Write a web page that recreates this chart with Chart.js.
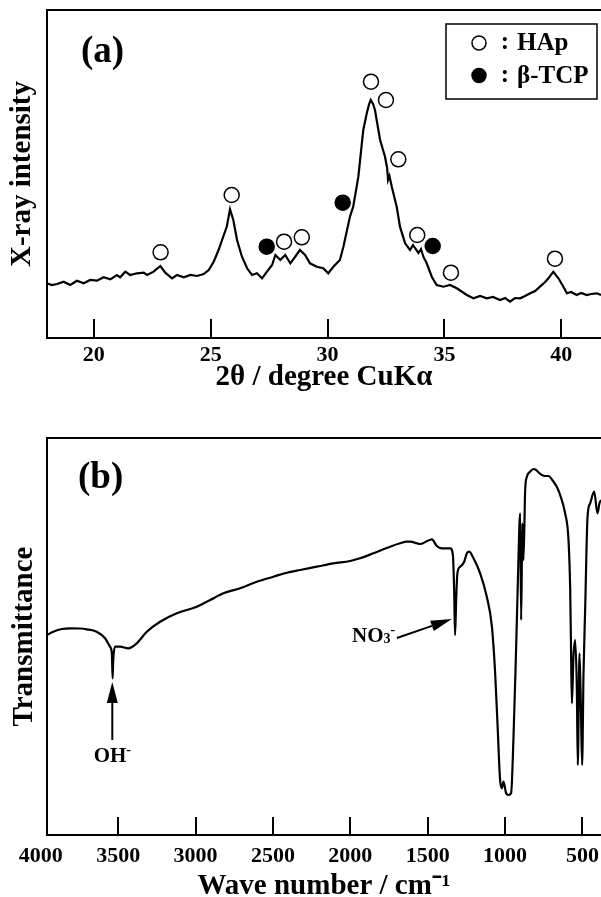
<!DOCTYPE html>
<html>
<head>
<meta charset="utf-8">
<title>XRD pattern and FT-IR spectrum</title>
<script src="https://cdn.jsdelivr.net/npm/chart.js@4.4.0/dist/chart.umd.min.js"></script>
<style>
  html, body { margin: 0; padding: 0; background: #fff; overflow: hidden; }
  #wrap { position: relative; width: 601px; height: 897px; overflow: hidden; }
  canvas { position: absolute; left: 0; }
  #xrd { top: 0; }
  #ftir { top: 400px; }
</style>
</head>
<body>
<div id="wrap">
  <canvas id="xrd" width="601" height="400"></canvas>
  <canvas id="ftir" width="601" height="510"></canvas>
</div>
<script>
const SERIF = "'Liberation Serif', 'Times New Roman', Times, serif";
const INK = "#000";

// (a) XRD pattern: 2θ (degree) and intensity (arbitrary units)
const XRD_2THETA = [
  18.00, 18.21, 18.43, 18.71, 18.99, 19.28, 19.57, 19.85, 20.14, 20.42,
  20.71, 20.99, 21.13, 21.35, 21.56, 21.85, 22.14, 22.28, 22.56, 22.85,
  23.06, 23.35, 23.56, 23.85, 24.13, 24.42, 24.70, 24.92, 25.13, 25.34,
  25.49, 25.69, 25.83, 25.97, 26.13, 26.34, 26.56, 26.77, 26.98, 27.20,
  27.41, 27.63, 27.77, 27.98, 28.19, 28.41, 28.61, 28.82, 29.04, 29.25,
  29.54, 29.82, 30.03, 30.25, 30.53, 30.68, 30.96, 31.10, 31.32, 31.53,
  31.68, 31.78, 31.85, 31.95, 32.03, 32.25, 32.46, 32.55, 32.59, 32.65,
  32.75, 32.96, 33.10, 33.32, 33.53, 33.66, 33.74, 33.89, 34.00, 34.10,
  34.24, 34.46, 34.67, 34.96, 35.24, 35.53, 35.96, 36.24, 36.53, 36.81,
  37.08, 37.38, 37.60, 37.81, 38.02, 38.24, 38.45, 38.67, 38.88, 39.09,
  39.31, 39.45, 39.66, 39.88, 40.09, 40.24, 40.42, 40.66, 40.85, 41.09,
  41.28, 41.52, 41.70,
];
const XRD_INTENSITY = [
  54.7, 53, 54, 56.3, 53, 57.3, 54.7, 58, 57.3, 60.7,
  58.7, 63, 60.7, 66.3, 63, 64.7, 65.3, 63, 66.3, 72,
  65.3, 59.7, 63, 60.7, 63, 62, 64, 68, 76.3, 88,
  98, 111.3, 128.7, 118, 98, 81.3, 69.7, 63, 64.7, 59.7,
  66.3, 73, 83, 78, 83, 74.7, 81, 88, 83, 74.7,
  71.3, 69.7, 64.7, 71.3, 78, 91.3, 121.3, 131.3, 161.3, 208,
  224.7, 234, 238, 234, 228, 198, 181.3, 170, 158, 162,
  151.3, 131.3, 111.3, 94.7, 88, 93, 90, 85, 89, 81.3,
  75, 61.3, 53, 51.3, 53, 49.7, 43, 39.7, 42, 39.7,
  41, 38, 40, 36.3, 40, 39.7, 42, 44.7, 47, 51.3,
  56, 59.7, 66.3, 59.7, 51.3, 44.7, 46, 43, 45, 43,
  44, 44.7, 43,
];

// peak assignments
const HAP_2THETA = [22.86, 25.90, 28.14, 28.90, 31.86, 32.50, 33.03, 33.84, 35.28, 39.73];
const HAP_MARK = [85.7, 143, 96.3, 100.7, 256.3, 238, 178.7, 103, 65.3, 79.3];
const TCP_2THETA = [27.40, 30.65, 34.50];
const TCP_MARK = [91.3, 135.3, 92];

const XRD_TICKS = [20, 25, 30, 35, 40];

// (b) FT-IR spectrum: wave number (cm-1) and transmittance (arbitrary units)
const IR_WAVENUMBER = [
  3960, 3919, 3863, 3811, 3746, 3703, 3639, 3585, 3553, 3541,
  3536, 3532, 3520, 3488, 3434, 3380, 3315, 3229, 3121, 2992,
  2906, 2820, 2712, 2604, 2497, 2410, 2324, 2217, 2109, 2001,
  1937, 1851, 1743, 1678, 1635, 1613, 1570, 1549, 1473, 1441,
  1409, 1355, 1337, 1329, 1323, 1316, 1308, 1290, 1264, 1247,
  1232, 1204, 1161, 1118, 1085, 1064, 1049, 1032, 1021, 1010,
  993, 978, 961, 946, 930, 917, 907, 902, 896, 888,
  881, 870, 859, 838, 818, 799, 780, 762, 741, 720,
  687, 665, 644, 612, 590, 579, 573, 568, 558, 547,
  536, 530, 519, 510, 502, 493, 482, 467, 450, 424,
  403, 390, 379,
];
const IR_TRANSMITTANCE = [
  200, 203.3, 206, 206.7, 206.5, 205.7, 203.3, 196.7, 188.3, 181.7,
  156.7, 175, 188.3, 188.3, 186.7, 191.7, 203.3, 213.3, 221.7, 228.3,
  235, 241.7, 246.7, 253.3, 258.3, 262.3, 265, 268.3, 271.7, 274,
  276.7, 281.7, 288.3, 291.7, 293.3, 293.3, 291.7, 291, 295.7, 289,
  286.7, 286.7, 280, 245, 200, 235, 261.7, 268.3, 273.3, 281.7,
  283.3, 276.7, 261.7, 238.3, 208.3, 161.7, 111.7, 55, 46.7, 53.3,
  41.7, 40, 41.7, 95, 178.3, 255, 311.7, 321.7, 215, 311.7,
  275, 345, 358.3, 363.3, 366, 365, 362, 360, 359, 359,
  353.3, 348, 340, 321.7, 295, 245, 178.3, 131.7, 178.3, 195,
  145, 70, 181.7, 128.3, 70, 161.7, 228.3, 318.3, 331.7, 343.3,
  321.7, 331.7, 335,
];

const IR_TICKS = [4000, 3500, 3000, 2500, 2000, 1500, 1000, 500];

// band labels with arrows, in data units
const IR_BANDS = [
  { parts: [{ t: "OH" }, { t: "-", sup: true }], tail: [3538, 95], tip: [3538, 153], text: [3538, 73], align: "center" },
  { parts: [{ t: "NO" }, { t: "3", sub: true }, { t: "-", sup: true }], tail: [1699, 197], tip: [1344, 216], text: [1710, 193], align: "right" },
];

function toPoints(xs, ys) {
  return xs.map((x, i) => ({ x, y: ys[i] }));
}

// Text with small sub/superscripts, y is the baseline
function drawRich(ctx, parts, x, y, size, align) {
  const small = Math.round(size * 0.68);
  const fontOf = (p) => "bold " + (p.sub || p.sup ? small : size) + "px " + SERIF;
  let width = 0;
  parts.forEach((p) => {
    ctx.font = fontOf(p);
    width += ctx.measureText(p.t).width;
  });
  let cx = align === "right" ? x - width : align === "center" ? x - width / 2 : x;
  ctx.textAlign = "left";
  ctx.textBaseline = "alphabetic";
  parts.forEach((p) => {
    ctx.font = fontOf(p);
    const dy = p.sub ? 1 : p.sup ? -size * 0.4 : 0;
    ctx.fillText(p.t, cx, y + dy);
    cx += ctx.measureText(p.t).width;
  });
}

function drawArrow(ctx, x0, y0, x1, y1, headLen, headHalf) {
  const ang = Math.atan2(y1 - y0, x1 - x0);
  const bx = x1 - headLen * Math.cos(ang);
  const by = y1 - headLen * Math.sin(ang);
  ctx.beginPath();
  ctx.moveTo(x0, y0);
  ctx.lineTo(bx, by);
  ctx.stroke();
  ctx.beginPath();
  ctx.moveTo(x1, y1);
  ctx.lineTo(bx + headHalf * Math.sin(ang), by - headHalf * Math.cos(ang));
  ctx.lineTo(bx - headHalf * Math.sin(ang), by + headHalf * Math.cos(ang));
  ctx.closePath();
  ctx.fill();
}

// Box on top/left/bottom (right side runs off the page) and inward ticks
const framePlugin = {
  id: "frame",
  beforeDatasetsDraw(chart, args, opts) {
    const { ctx, chartArea: a } = chart;
    const x = chart.scales.x;
    ctx.save();
    ctx.strokeStyle = INK;
    ctx.lineWidth = 2;
    ctx.beginPath();
    ctx.moveTo(a.right + 2, a.top);
    ctx.lineTo(a.left, a.top);
    ctx.lineTo(a.left, a.bottom);
    ctx.lineTo(a.right + 2, a.bottom);
    for (const t of x.ticks) {
      if (t.value < x.min || t.value > x.max) continue;
      const px = Math.round(x.getPixelForValue(t.value));
      ctx.moveTo(px, a.bottom);
      ctx.lineTo(px, a.bottom - opts.tickLength);
    }
    ctx.stroke();
    ctx.restore();
  },
};

// Panel letter, (a) / (b)
const panelPlugin = {
  id: "panel",
  afterDraw(chart, args, opts) {
    const { ctx, chartArea: a } = chart;
    ctx.save();
    ctx.fillStyle = INK;
    ctx.font = "bold 37px " + SERIF;
    ctx.textAlign = "left";
    ctx.textBaseline = "middle";
    ctx.fillText(opts.text, a.left + opts.dx, a.top + opts.dy);
    ctx.restore();
  },
};

// Boxed legend for the peak marks in (a)
const markLegendPlugin = {
  id: "markLegend",
  afterDraw(chart) {
    const { ctx, chartArea: a } = chart;
    const w = 151, h = 75;
    const left = a.right - 4 - w;
    const top = a.top + 14;
    ctx.save();
    ctx.strokeStyle = INK;
    ctx.lineWidth = 1.5;
    ctx.strokeRect(left, top, w, h);
    const marks = chart.data.datasets.filter((d) => d.isMark);
    marks.forEach((d, i) => {
      const cy = top + 19 + i * 32.5;
      ctx.beginPath();
      ctx.arc(left + 33, cy, 7, 0, Math.PI * 2);
      ctx.fillStyle = d.pointBackgroundColor;
      ctx.fill();
      ctx.lineWidth = 1.5;
      ctx.stroke();
      ctx.fillStyle = INK;
      ctx.font = "bold 25px " + SERIF;
      ctx.textBaseline = "middle";
      ctx.textAlign = "center";
      ctx.fillText(":", left + 59, cy);
      ctx.textAlign = "left";
      ctx.fillText(d.label, left + 71, cy + 1);
    });
    ctx.restore();
  },
};

// Arrows pointing at the OH- and NO3- bands in (b)
const bandPlugin = {
  id: "bands",
  afterDatasetsDraw(chart) {
    const { ctx } = chart;
    const { x, y } = chart.scales;
    ctx.save();
    ctx.strokeStyle = INK;
    ctx.fillStyle = INK;
    ctx.lineWidth = 2;
    IR_BANDS.forEach((b) => {
      drawArrow(
        ctx,
        x.getPixelForValue(b.tail[0]), y.getPixelForValue(b.tail[1]),
        x.getPixelForValue(b.tip[0]), y.getPixelForValue(b.tip[1]),
        21, 5.5
      );
      drawRich(ctx, b.parts, x.getPixelForValue(b.text[0]), y.getPixelForValue(b.text[1]), 21, b.align);
    });
    ctx.restore();
  },
};

function xAxis(opts) {
  return {
    type: "linear",
    min: opts.min,
    max: opts.max,
    reverse: !!opts.reverse,
    afterBuildTicks: (scale) => {
      scale.ticks = opts.ticks.map((v) => ({ value: v }));
    },
    afterFit: (scale) => {
      scale.height = opts.height;
      scale.paddingLeft = 0;
      scale.paddingRight = 0;
    },
    grid: { display: false, drawTicks: false },
    border: { display: false },
    ticks: {
      autoSkip: false,
      maxRotation: 0,
      padding: opts.tickPad,
      color: INK,
      font: { family: SERIF, size: 22, weight: "bold", lineHeight: 1 },
      callback: (v) => String(v),
    },
    title: {
      display: true,
      text: opts.title,
      color: INK,
      padding: { top: 0, bottom: opts.titlePad },
      font: { family: SERIF, size: 29, weight: "bold", lineHeight: 1 },
    },
  };
}

function yAxis(opts) {
  return {
    min: 0,
    max: opts.max,
    afterFit: (scale) => {
      scale.width = 47;
    },
    grid: { display: false, drawTicks: false },
    border: { display: false },
    ticks: { display: false },
    title: {
      display: true,
      text: opts.title,
      color: INK,
      padding: { top: opts.titlePad, bottom: 0 },
      font: { family: SERIF, size: 29, weight: "bold", lineHeight: 1 },
    },
  };
}

const baseOptions = {
  responsive: false,
  animation: false,
  devicePixelRatio: 1,
  events: [],
};

// (a) XRD
new Chart(document.getElementById("xrd"), {
  type: "line",
  data: {
    datasets: [
      {
        label: "XRD",
        data: toPoints(XRD_2THETA, XRD_INTENSITY),
        borderColor: INK,
        borderWidth: 2.2,
        pointRadius: 0,
        tension: 0,
        order: 1,
      },
      {
        label: "HAp",
        isMark: true,
        data: toPoints(HAP_2THETA, HAP_MARK),
        showLine: false,
        pointRadius: 7.5,
        pointBorderWidth: 1.5,
        pointBorderColor: INK,
        pointBackgroundColor: "#fff",
        order: 0,
      },
      {
        label: "β-TCP",
        isMark: true,
        data: toPoints(TCP_2THETA, TCP_MARK),
        showLine: false,
        pointRadius: 7.5,
        pointBorderWidth: 1.5,
        pointBorderColor: INK,
        pointBackgroundColor: INK,
        order: 0,
      },
    ],
  },
  options: {
    ...baseOptions,
    layout: { autoPadding: false, padding: { top: 10, left: 0, right: 0, bottom: 0 } },
    plugins: {
      legend: { display: false },
      tooltip: { enabled: false },
      frame: { tickLength: 19 },
      panel: { text: "(a)", dx: 34, dy: 42 },
    },
    scales: {
      x: xAxis({ min: 18, max: 41.7, ticks: XRD_TICKS, height: 62, tickPad: 6, title: "2θ / degree CuKα", titlePad: 8 }),
      y: yAxis({ max: 328, title: "X-ray intensity", titlePad: 8 }),
    },
  },
  plugins: [framePlugin, panelPlugin, markLegendPlugin],
});

// (b) FT-IR
new Chart(document.getElementById("ftir"), {
  type: "line",
  data: {
    datasets: [
      {
        label: "FT-IR",
        data: toPoints(IR_WAVENUMBER, IR_TRANSMITTANCE),
        borderColor: INK,
        borderWidth: 2.2,
        pointRadius: 0,
        cubicInterpolationMode: "monotone",
      },
    ],
  },
  options: {
    ...baseOptions,
    layout: { autoPadding: false, padding: { top: 38, left: 0, right: 0, bottom: 0 } },
    plugins: {
      legend: { display: false },
      tooltip: { enabled: false },
      frame: { tickLength: 18 },
      panel: { text: "(b)", dx: 31, dy: 40 },
    },
    scales: {
      x: xAxis({ min: 380, max: 3960, reverse: true, ticks: IR_TICKS, height: 75, tickPad: 10, title: "Wave number / cm⁻¹", titlePad: 9 }),
      y: yAxis({ max: 397, title: "Transmittance", titlePad: 10 }),
    },
  },
  plugins: [framePlugin, panelPlugin, bandPlugin],
});
</script>
</body>
</html>
